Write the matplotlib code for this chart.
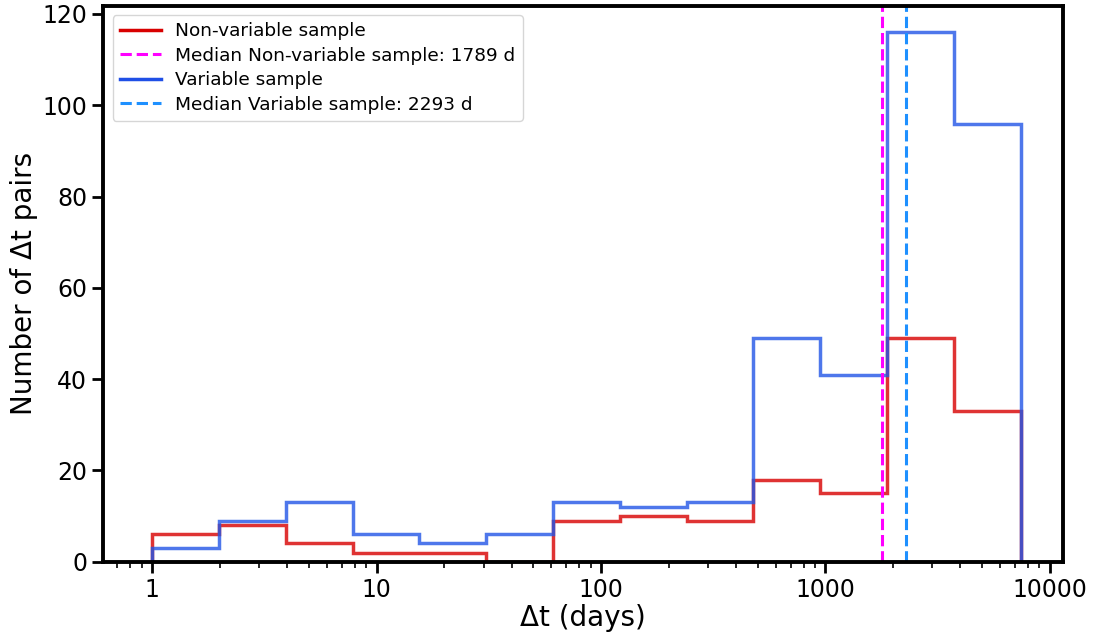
import numpy as np
import matplotlib.pyplot as plt
from matplotlib.lines import Line2D

# bin edges (log spaced, 1 .. ~7400 days)
edges = np.logspace(0, 3.87, 14)

nonvar_counts = [6, 8, 4, 2, 2, 0, 9, 10, 9, 18, 15, 49, 33]
var_counts = [3, 9, 13, 6, 4, 6, 13, 12, 13, 49, 41, 116, 96]

median_nonvar = 1789
median_var = 2293

fig = plt.figure(figsize=(10.99, 6.42), dpi=100)
ax = fig.add_axes([0.094, 0.125, 0.873, 0.866])

ax.stairs(nonvar_counts, edges, baseline=0, color='#d80000', alpha=0.8, linewidth=2.5)
ax.axvline(median_nonvar, color='magenta', linestyle='--', linewidth=2.2)
ax.stairs(var_counts, edges, baseline=0, color='#2255e6', alpha=0.8, linewidth=2.5)
ax.axvline(median_var, color='dodgerblue', linestyle='--', linewidth=2.2)

ax.set_xscale('log')
ax.set_xlim(10 ** -0.218, 10 ** 4.058)
ax.set_ylim(0, 121.8)
ax.set_xticks([1, 10, 100, 1000, 10000])
ax.set_xticklabels(['1', '10', '100', '1000', '10000'])
ax.set_yticks([0, 20, 40, 60, 80, 100, 120])

ax.set_xlabel('Δt (days)', fontsize=20, labelpad=2)
ax.set_ylabel('Number of Δt pairs', fontsize=20, labelpad=3)

ax.tick_params(axis='both', which='major', labelsize=17, length=8, width=2)
ax.tick_params(axis='x', which='minor', length=4, width=1.2)
for s in ax.spines.values():
    s.set_linewidth(2.8)

handles = [
    Line2D([], [], color='#d80000', linewidth=2.5),
    Line2D([], [], color='magenta', linestyle='--', linewidth=2.2),
    Line2D([], [], color='#1f4fe6', linewidth=2.5),
    Line2D([], [], color='dodgerblue', linestyle='--', linewidth=2.2),
]
labels = ['Non-variable sample',
          'Median Non-variable sample: %d d' % median_nonvar,
          'Variable sample',
          'Median Variable sample: %d d' % median_var]
ax.legend(handles, labels, loc='upper left', fontsize=13.3, labelspacing=0.35,
          handlelength=2.2)

fig.savefig('out.png', dpi=100)
